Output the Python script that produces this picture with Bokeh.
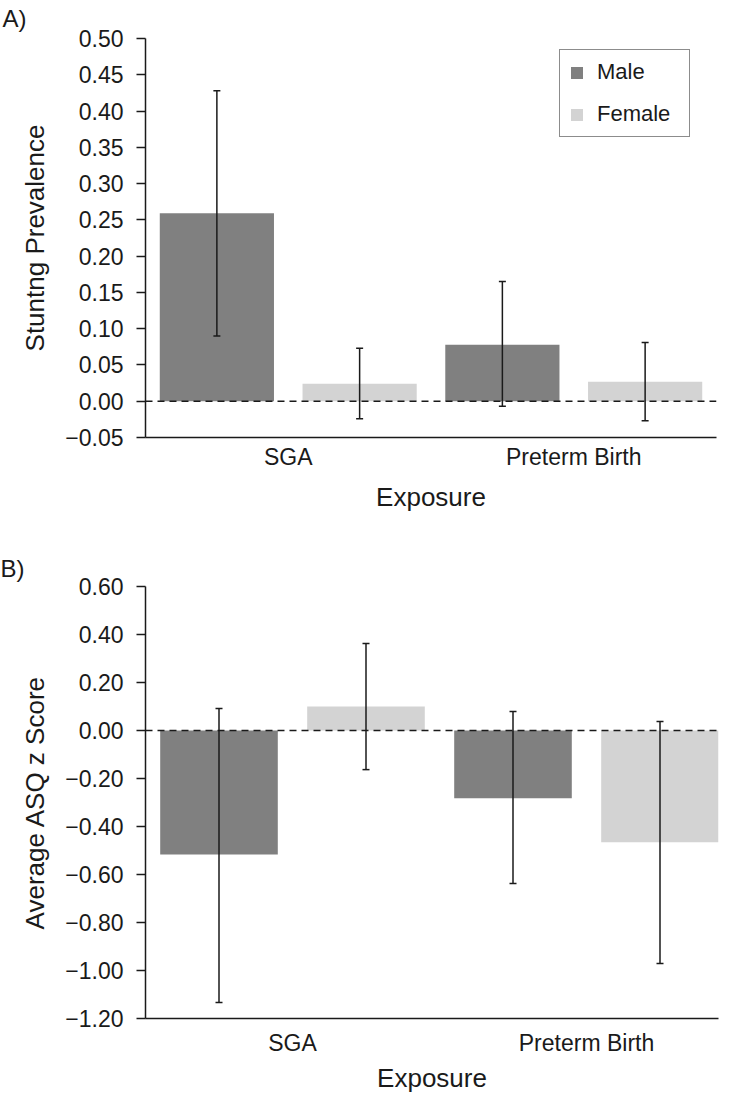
from bokeh.plotting import figure
from bokeh.layouts import column
from bokeh.models import (ColumnDataSource, FixedTicker, Span, Whisker, TeeHead,
                          Range1d, CustomJSTickFormatter)
from bokeh.embed import file_html
from bokeh.resources import INLINE

# ---------------- data ----------------
categories = ["SGA", "Preterm Birth"]
sexes = ["Male", "Female"]
sex_colors = ["#808080", "#d3d3d3"]

stunting_male = [0.259, 0.078]
stunting_male_lower = [0.090, -0.007]
stunting_male_upper = [0.428, 0.165]
stunting_female = [0.024, 0.027]
stunting_female_lower = [-0.024, -0.027]
stunting_female_upper = [0.073, 0.081]
stunting_ticks = [-0.05, 0.0, 0.05, 0.10, 0.15, 0.20, 0.25, 0.30, 0.35, 0.40, 0.45, 0.50]

asq_male = [-0.517, -0.282]
asq_male_lower = [-1.133, -0.638]
asq_male_upper = [0.092, 0.079]
asq_female = [0.100, -0.466]
asq_female_lower = [-0.163, -0.971]
asq_female_upper = [0.362, 0.037]
asq_ticks = [-1.20, -1.00, -0.80, -0.60, -0.40, -0.20, 0.0, 0.20, 0.40, 0.60]

FONT = "Liberation Sans"
INK = "#1a1a1a"


def make_panel(tag, ylabel, series, ticks, yrange, xend, frame_w, frame_h,
               mb_left, mb_top, mb_bottom, mb_right, x_standoff, xlab_standoff,
               title_standoff, title_valign, legend=False):
    p = figure(output_backend="svg", toolbar_location=None,
               frame_width=frame_w, frame_height=frame_h,
               x_range=Range1d(0, xend), y_range=Range1d(*yrange),
               min_border_left=mb_left, min_border_top=mb_top,
               min_border_bottom=mb_bottom, min_border_right=mb_right,
               outline_line_color=None, background_fill_color="white",
               border_fill_color="white")
    p.xgrid.visible = False
    p.ygrid.visible = False

    offsets = [-0.25, 0.25]
    for k, (vals, lo, hi) in enumerate(series):
        xs = [i + 0.5 + offsets[k] for i in range(len(categories))]
        src = ColumnDataSource(dict(x=xs, top=vals, lo=lo, hi=hi))
        kw = dict(legend_label=sexes[k]) if legend else {}
        p.vbar(x="x", top="top", bottom=0, width=0.4, source=src,
               fill_color=sex_colors[k], line_color=None, **kw)
    for k, (vals, lo, hi) in enumerate(series):
        xs = [i + 0.5 + offsets[k] for i in range(len(categories))]
        src = ColumnDataSource(dict(x=xs, lo=lo, hi=hi))
        p.add_layout(Whisker(base="x", lower="lo", upper="hi", source=src,
                             level="overlay",
                             line_color=INK, line_width=1.5,
                             upper_head=TeeHead(size=7, line_color=INK, line_width=1.5),
                             lower_head=TeeHead(size=7, line_color=INK, line_width=1.5)))

    p.add_layout(Span(location=0, dimension="width", line_color=INK,
                      line_width=1.5, line_dash="7 5"))

    # x axis
    xa = p.xaxis[0]
    xa.ticker = FixedTicker(ticks=[i + 0.5 for i in range(len(categories))])
    xa.major_label_overrides = {i + 0.5: c for i, c in enumerate(categories)}
    xa.major_tick_line_color = None
    xa.minor_tick_line_color = None
    xa.major_tick_out = 0
    xa.major_label_standoff = x_standoff
    xa.axis_line_color = INK
    xa.axis_line_width = 1.5
    xa.major_label_text_font = FONT
    xa.major_label_text_font_size = "23px"
    xa.major_label_text_color = INK
    xa.axis_label = "Exposure"
    xa.axis_label_text_font = FONT
    xa.axis_label_text_font_size = "26px"
    xa.axis_label_text_font_style = "normal"
    xa.axis_label_text_color = INK
    xa.axis_label_standoff = xlab_standoff

    # y axis
    ya = p.yaxis[0]
    ya.ticker = FixedTicker(ticks=ticks)
    ya.formatter = CustomJSTickFormatter(code="""
        const s = Math.abs(tick).toFixed(2);
        return (tick < -1e-9 ? "\u2212" : "") + s;
    """)
    ya.minor_tick_line_color = None
    ya.major_tick_out = 9
    ya.major_tick_in = 0
    ya.major_tick_line_color = INK
    ya.major_tick_line_width = 1.5
    ya.major_label_standoff = 13
    ya.axis_line_color = INK
    ya.axis_line_width = 1.5
    ya.major_label_text_font = FONT
    ya.major_label_text_font_size = "23px"
    ya.major_label_text_color = INK
    ya.axis_label = ylabel
    ya.axis_label_text_font = FONT
    ya.axis_label_text_font_size = "26px"
    ya.axis_label_text_font_style = "normal"
    ya.axis_label_text_color = INK
    ya.axis_label_standoff = 12

    # panel tag
    p.title.text = tag
    p.title.align = "left"
    p.title.vertical_align = title_valign
    p.title.offset = -mb_left
    p.title.standoff = title_standoff
    p.title.text_font = FONT
    p.title.text_font_size = "24px"
    p.title.text_font_style = "normal"
    p.title.text_color = INK

    if legend:
        lg = p.legend[0]
        lg.location = (414, 300)
        lg.border_line_color = INK
        lg.border_line_width = 1.5
        lg.background_fill_color = "white"
        lg.background_fill_alpha = 1.0
        lg.padding = 9
        lg.spacing = 16
        lg.glyph_width = 15
        lg.glyph_height = 15
        lg.label_height = 25
        lg.label_width = 83
        lg.label_standoff = 13
        lg.label_text_font = FONT
        lg.label_text_font_size = "22px"
        lg.label_text_color = INK
        lg.margin = 0
    return p


pA = make_panel("A)", "Stuntng Prevalence",
                [(stunting_male, stunting_male_lower, stunting_male_upper),
                 (stunting_female, stunting_female_lower, stunting_female_upper)],
                stunting_ticks, (-0.05, 0.50), 2.0, 571, 399,
                143, 38, 88, 16, 6, 9, 9, "top", legend=True)

pB = make_panel("B)", "Average ASQ z Score",
                [(asq_male, asq_male_lower, asq_male_upper),
                 (asq_female, asq_female_lower, asq_female_upper)],
                asq_ticks, (-1.20, 0.60), 573 / 294, 573, 432,
                145, 61, 80, 12, 11, 4, 9, "bottom")

layout = column(pA, pB, spacing=0)
open("out.html", "w").write(file_html(layout, INLINE))
